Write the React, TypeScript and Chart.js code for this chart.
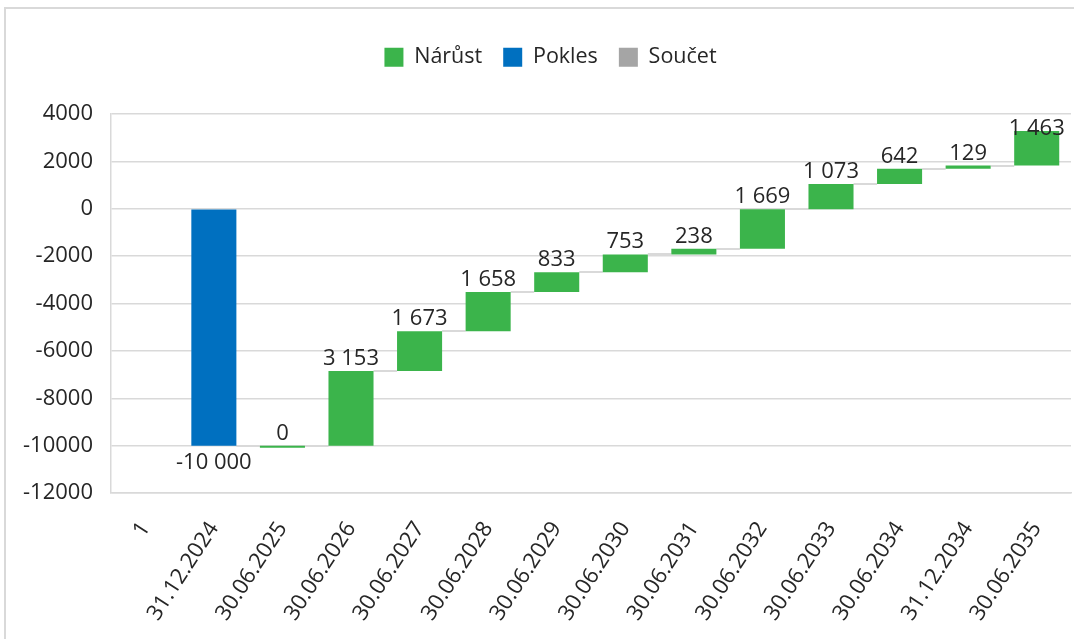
import React, { useEffect, useRef } from 'react';
import { Chart, registerables } from 'chart.js';

Chart.register(...registerables);

const categories: string[] = [
  '1', '31.12.2024', '30.06.2025', '30.06.2026', '30.06.2027', '30.06.2028', '30.06.2029',
  '30.06.2030', '30.06.2031', '30.06.2032', '30.06.2033', '30.06.2034', '31.12.2034', '30.06.2035',
];
const increases: (number | null)[] = [null, null, 0, 3153, 1673, 1658, 833, 753, 238, 1669, 1073, 642, 129, 1463];
const decreases: (number | null)[] = [null, -10000, null, null, null, null, null, null, null, null, null, null, null, null];
const totals: (number | null)[] = [null, null, null, null, null, null, null, null, null, null, null, null, null, null];
const seriesNames: string[] = ['Nárůst', 'Pokles', 'Součet'];
const seriesColors: string[] = ['#3BB44B', '#0070C0', '#A5A5A5'];
const yMin = -12000;
const yMax = 4000;
const yStep = 2000;

const FONT = "'Open Sans', 'Noto Sans', sans-serif";
const TEXT = '#262626';
const GRID = '#d9d9d9';

// waterfall ranges built from the values
let running = 0;
const ranges: [number, number][] = categories.map((_, i) => {
  const d = (increases[i] ?? 0) + (decreases[i] ?? 0) + (totals[i] ?? 0);
  const start = running;
  running += d;
  return [start, running];
});
const incData = increases.map((v, i) => (v === null ? null : ranges[i]));
const decData = decreases.map((v, i) => (v === null ? null : ranges[i]));
const totData = totals.map((v, i) => (v === null ? null : [0, v]));

const fmt = (v: number) => {
  const s = Math.abs(v).toString().replace(/\B(?=(\d{3})+(?!\d))/g, ' ');
  return (v < 0 ? '-' : '') + s;
};

const framePlugin = {
  id: 'frame',
  beforeDraw(chart: any) {
    const ctx = chart.ctx;
    ctx.save();
    ctx.strokeStyle = GRID;
    ctx.lineWidth = 2;
    ctx.beginPath();
    ctx.moveTo(5, chart.height + 5);
    ctx.lineTo(5, 8);
    ctx.lineTo(chart.width + 5, 8);
    ctx.stroke();
    ctx.restore();
  },
};

const legendPatchPlugin = {
  id: 'legendPatch',
  beforeInit(chart: any) {
    const legend = chart.legend;
    if (!legend || legend.__patched) return;
    const origFit = legend.fit;
    legend.fit = function () {
      origFit.call(this);
      this.height = 88.5;
    };
    const origDraw = legend.draw;
    legend.draw = function () {
      const ctx = this.ctx;
      ctx.save();
      ctx.translate(15, 0);
      origDraw.call(this);
      ctx.restore();
    };
    legend.__patched = true;
  },
};

const connectorPlugin = {
  id: 'connectors',
  beforeDatasetsDraw(chart: any) {
    const ctx = chart.ctx;
    const y = chart.scales.y;
    const elems: any[] = categories.map((_, i) => {
      for (let d = 0; d < chart.data.datasets.length; d++) {
        const ds = chart.data.datasets[d].data[i];
        if (ds !== null && ds !== undefined) return chart.getDatasetMeta(d).data[i];
      }
      return null;
    });
    ctx.save();
    ctx.strokeStyle = GRID;
    ctx.lineWidth = 2;
    for (let i = 0; i < categories.length - 1; i++) {
      const a = elems[i];
      const b = elems[i + 1];
      if (!a || !b) continue;
      const py = Math.round(y.getPixelForValue(ranges[i][1]));
      ctx.beginPath();
      ctx.moveTo(a.x + a.width / 2, py);
      ctx.lineTo(b.x - b.width / 2, py);
      ctx.stroke();
    }
    ctx.restore();
  },
};

const labelPlugin = {
  id: 'valueLabels',
  afterDatasetsDraw(chart: any) {
    const ctx = chart.ctx;
    const area = chart.chartArea;
    ctx.save();
    ctx.font = `22px ${FONT}`;
    ctx.fillStyle = TEXT;
    ctx.textAlign = 'center';
    ctx.textBaseline = 'alphabetic';
    const incMeta = chart.getDatasetMeta(0);
    increases.forEach((v, i) => {
      if (v === null) return;
      const el = incMeta.data[i];
      const top = Math.min(el.y, el.base);
      const baseline = Math.max(top - 6, area.top + 21);
      ctx.fillText(fmt(v), el.x, baseline);
    });
    const decMeta = chart.getDatasetMeta(1);
    decreases.forEach((v, i) => {
      if (v === null) return;
      const el = decMeta.data[i];
      const bottom = Math.max(el.y, el.base);
      ctx.fillText(fmt(v), el.x, bottom + 23);
    });
    ctx.restore();
  },
};

export default function App() {
  const ref = useRef<HTMLCanvasElement | null>(null);
  useEffect(() => {
    document.body.style.margin = '0';
    document.body.style.overflow = 'hidden';
    const canvas = ref.current;
    if (!canvas) return;
    const chart = new Chart(canvas, {
      type: 'bar',
      data: {
        labels: categories,
        datasets: [
          { label: seriesNames[0], data: incData as any, backgroundColor: seriesColors[0], borderWidth: 0, minBarLength: 2 },
          { label: seriesNames[1], data: decData as any, backgroundColor: seriesColors[1], borderWidth: 0 },
          { label: seriesNames[2], data: totData as any, backgroundColor: seriesColors[2], borderWidth: 0 },
        ],
      },
      options: {
        animation: false,
        responsive: false,
        maintainAspectRatio: false,
        layout: { padding: { top: 25.5, left: 0, right: 3, bottom: 0 } },
        datasets: {
          bar: { grouped: false, barPercentage: 0.657, categoryPercentage: 1 },
        },
        plugins: {
          tooltip: { enabled: false },
          legend: {
            position: 'top',
            labels: {
              boxWidth: 19,
              boxHeight: 19,
              padding: 21,
              color: TEXT,
              font: { family: FONT, size: 21.5 },
            },
          },
        },
        scales: {
          x: {
            grid: { display: false },
            border: { display: true, color: GRID, width: 1.5 },
            ticks: {
              autoSkip: false,
              minRotation: 57,
              maxRotation: 57,
              padding: 16,
              color: TEXT,
              font: { family: FONT, size: 22 },
            },
            afterFit: (s: any) => { s.height = 146; s.paddingLeft = 0; s.paddingRight = 0; },
          },
          y: {
            min: yMin,
            max: yMax,
            grid: { color: GRID, lineWidth: 1.5, drawTicks: false },
            border: { display: true, color: GRID, width: 1.5 },
            ticks: {
              stepSize: yStep,
              padding: 18,
              color: TEXT,
              font: { family: FONT, size: 22 },
              callback: (v: any) => String(v),
            },
            afterFit: (s: any) => { s.width = 111; },
          },
        },
      },
      plugins: [framePlugin, legendPatchPlugin, connectorPlugin, labelPlugin],
    });
    return () => chart.destroy();
  }, []);
  return (
    <div style={{ position: 'relative', width: 1074, height: 639 }}>
      <canvas ref={ref} width={1074} height={639} style={{ display: 'block', width: 1074, height: 639 }} />
    </div>
  );
}
